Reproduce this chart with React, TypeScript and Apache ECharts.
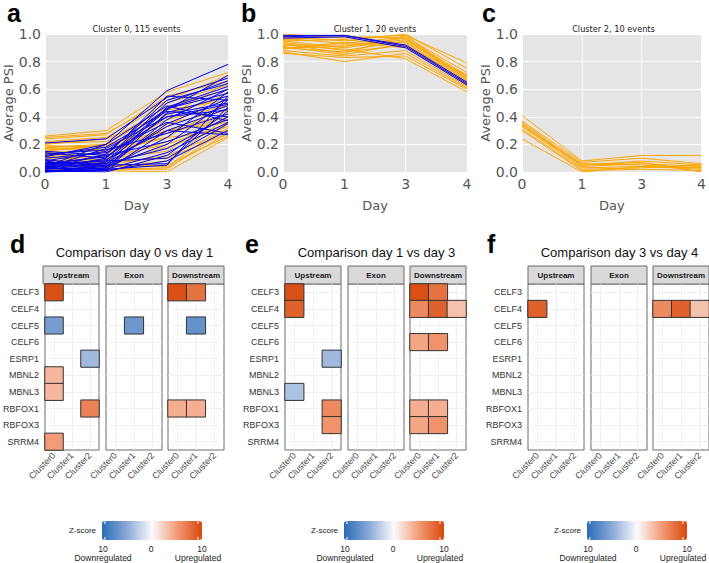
import React, { useEffect, useRef } from 'react';
import * as echarts from 'echarts';

// ---------- top row: average PSI trajectories ----------
const days = ['0', '1', '3', '4'];
const clusterTitles = ['Cluster 0, 115 events', 'Cluster 1, 20 events', 'Cluster 2, 10 events'];

const c0Orange: number[][] = [
  [0.26, 0.30, 0.58, 0.72], [0.25, 0.28, 0.52, 0.70], [0.24, 0.27, 0.55, 0.66], [0.22, 0.25, 0.50, 0.63],
  [0.21, 0.22, 0.47, 0.60], [0.20, 0.24, 0.42, 0.55], [0.19, 0.18, 0.40, 0.65], [0.18, 0.20, 0.45, 0.52],
  [0.17, 0.15, 0.38, 0.48], [0.16, 0.19, 0.35, 0.45], [0.15, 0.12, 0.33, 0.58], [0.14, 0.16, 0.30, 0.42],
  [0.13, 0.10, 0.28, 0.40], [0.12, 0.14, 0.25, 0.50], [0.11, 0.08, 0.22, 0.38], [0.10, 0.11, 0.20, 0.35],
  [0.09, 0.06, 0.18, 0.33], [0.08, 0.09, 0.15, 0.45], [0.07, 0.05, 0.12, 0.30], [0.06, 0.07, 0.10, 0.28],
  [0.05, 0.03, 0.08, 0.40], [0.04, 0.04, 0.05, 0.26], [0.03, 0.02, 0.02, 0.32], [0.02, 0.01, 0.00, 0.25],
  [0.15, 0.20, 0.30, 0.36], [0.18, 0.16, 0.25, 0.30], [0.12, 0.05, 0.04, 0.35], [0.08, 0.02, 0.03, 0.28],
];
const c0Blue: number[][] = [
  [0.04, 0.20, 0.59, 0.78], [0.21, 0.24, 0.54, 0.68], [0.15, 0.12, 0.55, 0.52], [0.02, 0.10, 0.50, 0.66],
  [0.00, 0.05, 0.47, 0.62], [0.08, 0.15, 0.46, 0.57], [0.05, 0.08, 0.45, 0.70], [0.12, 0.18, 0.44, 0.40],
  [0.01, 0.03, 0.43, 0.55], [0.03, 0.07, 0.42, 0.50], [0.06, 0.11, 0.40, 0.45], [0.00, 0.02, 0.38, 0.60],
  [0.10, 0.14, 0.36, 0.28], [0.02, 0.04, 0.35, 0.53], [0.07, 0.06, 0.33, 0.48], [0.01, 0.01, 0.30, 0.46],
  [0.04, 0.09, 0.30, 0.27], [0.13, 0.16, 0.28, 0.42], [0.00, 0.03, 0.25, 0.58], [0.05, 0.12, 0.22, 0.38],
  [0.09, 0.04, 0.20, 0.52], [0.02, 0.06, 0.17, 0.40], [0.03, 0.02, 0.14, 0.36], [0.01, 0.00, 0.12, 0.44],
  [0.06, 0.08, 0.10, 0.35], [0.00, 0.01, 0.08, 0.30], [0.04, 0.05, 0.06, 0.47], [0.11, 0.20, 0.48, 0.37],
  [0.02, 0.13, 0.52, 0.64], [0.08, 0.02, 0.05, 0.55], [0.14, 0.10, 0.46, 0.60], [0.03, 0.17, 0.40, 0.49],
];
const c1Orange: number[][] = [
  [1.00, 0.97, 0.99, 0.79], [0.98, 0.95, 1.00, 0.75], [0.97, 0.93, 0.98, 0.72], [0.96, 0.98, 0.97, 0.70],
  [0.95, 0.90, 0.96, 0.69], [0.94, 0.88, 0.95, 0.68], [0.93, 0.86, 0.99, 0.67], [0.92, 0.92, 0.94, 0.66],
  [0.91, 0.85, 0.93, 0.65], [0.90, 0.87, 0.92, 0.64], [0.89, 0.94, 0.90, 0.63], [0.88, 0.84, 0.88, 0.62],
  [0.87, 0.80, 0.86, 0.61], [0.86, 0.83, 0.84, 0.60], [0.92, 0.89, 0.82, 0.58], [0.95, 0.96, 0.91, 0.70],
  [0.90, 0.91, 0.97, 0.66],
];
const c1Blue: number[][] = [
  [0.98, 0.99, 0.92, 0.65], [0.97, 0.98, 0.90, 0.63], [0.99, 0.99, 0.91, 0.64],
];
const c2Orange: number[][] = [
  [0.41, 0.08, 0.12, 0.12], [0.37, 0.07, 0.10, 0.06], [0.36, 0.05, 0.08, 0.05], [0.35, 0.04, 0.06, 0.04],
  [0.34, 0.06, 0.05, 0.03], [0.33, 0.03, 0.04, 0.02], [0.31, 0.02, 0.03, 0.05], [0.30, 0.01, 0.02, 0.01],
  [0.24, 0.00, 0.04, 0.03], [0.33, 0.05, 0.07, 0.00],
];
const c2Blue: number[][] = [];

// ---------- bottom row: RBP motif z-score heatmaps ----------
const genes = ['CELF3', 'CELF4', 'CELF5', 'CELF6', 'ESRP1', 'MBNL2', 'MBNL3', 'RBFOX1', 'RBFOX3', 'SRRM4'];
const clusters = ['Cluster0', 'Cluster1', 'Cluster2'];
const regions = ['Upstream', 'Exon', 'Downstream'];
const comparisons = ['Comparison day 0 vs day 1', 'Comparison day 1 vs day 3', 'Comparison day 3 vs day 4'];
const zTickLabels = ['10', '0', '10'];
const zEndLabels = ['Downregulated', 'Upregulated'];

type Cell = [string, string, number];
const d01Upstream: Cell[] = [
  ['Cluster0', 'CELF3', 9.5], ['Cluster0', 'CELF5', -6], ['Cluster2', 'ESRP1', -4],
  ['Cluster0', 'MBNL2', 3.5], ['Cluster0', 'MBNL3', 3.5], ['Cluster2', 'RBFOX1', 6.5], ['Cluster0', 'SRRM4', 5],
];
const d01Exon: Cell[] = [['Cluster1', 'CELF5', -6.5]];
const d01Downstream: Cell[] = [
  ['Cluster0', 'CELF3', 9.5], ['Cluster1', 'CELF3', 7.5], ['Cluster1', 'CELF5', -7],
  ['Cluster0', 'RBFOX1', 4], ['Cluster1', 'RBFOX1', 4],
];
const d13Upstream: Cell[] = [
  ['Cluster0', 'CELF3', 9.5], ['Cluster0', 'CELF4', 8.5], ['Cluster2', 'ESRP1', -4],
  ['Cluster0', 'MBNL3', -3.5], ['Cluster2', 'RBFOX1', 6], ['Cluster2', 'RBFOX3', 5.5],
];
const d13Exon: Cell[] = [];
const d13Downstream: Cell[] = [
  ['Cluster0', 'CELF3', 9.5], ['Cluster1', 'CELF3', 7.5],
  ['Cluster0', 'CELF4', 6], ['Cluster1', 'CELF4', 8.5], ['Cluster2', 'CELF4', 3],
  ['Cluster0', 'CELF6', 4.5], ['Cluster1', 'CELF6', 5.5],
  ['Cluster0', 'RBFOX1', 4], ['Cluster1', 'RBFOX1', 4],
  ['Cluster0', 'RBFOX3', 4.5], ['Cluster1', 'RBFOX3', 5.5],
];
const d34Upstream: Cell[] = [['Cluster0', 'CELF4', 8.5]];
const d34Exon: Cell[] = [];
const d34Downstream: Cell[] = [['Cluster0', 'CELF4', 6], ['Cluster1', 'CELF4', 8.5], ['Cluster2', 'CELF4', 3]];

const heatPanels: Cell[][][] = [
  [d01Upstream, d01Exon, d01Downstream],
  [d13Upstream, d13Exon, d13Downstream],
  [d34Upstream, d34Exon, d34Downstream],
];
const linePanels = [
  { orange: c0Orange, blue: c0Blue },
  { orange: c1Orange, blue: c1Blue },
  { orange: c2Orange, blue: c2Blue },
];

const zColors = ['#2a6cb4', '#8aa9d8', '#fbfbfd', '#f39b76', '#d7480c'];

function buildOption() {
  const DV = 'DejaVu Sans';
  const LS = 'Liberation Sans';
  const grid: any[] = [];
  const xAxis: any[] = [];
  const yAxis: any[] = [];
  const series: any[] = [];
  const visualMap: any[] = [];
  const graphic: any[] = [];

  const lineLefts = [45, 283, 522];
  const lineWidths = [183, 184, 183];
  const lineTop = 34;
  const lineH = 138;
  const letterX = [7, 241, 482];

  linePanels.forEach((p, i) => {
    grid.push({ left: lineLefts[i], top: lineTop, width: lineWidths[i], height: lineH, show: true, backgroundColor: '#e5e5e5', borderWidth: 0 });
    xAxis.push({
      gridIndex: i, type: 'category', data: days, boundaryGap: false,
      name: 'Day', nameLocation: 'middle', nameGap: 27,
      nameTextStyle: { fontFamily: DV, fontSize: 13, color: '#555' },
      axisLabel: { interval: 0, fontFamily: DV, fontSize: 14, color: '#555', margin: 5 },
      axisLine: { show: false }, axisTick: { show: false },
      splitLine: { show: true, interval: 0, lineStyle: { color: '#ffffff', width: 1 } },
    });
    yAxis.push({
      gridIndex: i, type: 'value', min: 0, max: 1, interval: 0.2,
      name: 'Average PSI', nameLocation: 'middle', nameGap: 27,
      nameTextStyle: { fontFamily: DV, fontSize: 13, color: '#555' },
      axisLabel: { fontFamily: DV, fontSize: 14, color: '#555', margin: 4, formatter: (v: number) => v.toFixed(1) },
      axisLine: { show: false }, axisTick: { show: false },
      splitLine: { show: true, lineStyle: { color: '#ffffff', width: 1 } },
    });
    p.orange.forEach((d) => series.push({
      type: 'line', xAxisIndex: i, yAxisIndex: i, data: d, symbol: 'none', silent: true,
      lineStyle: { color: '#ffa500', width: 1 }, z: 2,
    }));
    p.blue.forEach((d) => series.push({
      type: 'line', xAxisIndex: i, yAxisIndex: i, data: d, symbol: 'none', silent: true,
      lineStyle: { color: '#0000f0', width: 1 }, z: 3,
    }));
    graphic.push({
      type: 'text', x: lineLefts[i] + lineWidths[i] / 2, y: 29,
      style: { text: clusterTitles[i], fontFamily: DV, fontSize: 8.2, fill: '#222', align: 'center', verticalAlign: 'middle' },
    });
    graphic.push({
      type: 'text', x: letterX[i], y: 13,
      style: { text: ['a', 'b', 'c'][i], fontFamily: LS, fontSize: 25, fontWeight: 'bold', fill: '#000', align: 'left', verticalAlign: 'middle' },
    });
  });

  const panelLefts = [43, 285, 528];
  const facetOffsets = [0, 63, 125];
  const facetW = 56;
  const heatTop = 284;
  const heatH = 166;
  const stripH = 18;

  heatPanels.forEach((panel, pi) => {
    const idxs: number[] = [];
    panel.forEach((cells, fi) => {
      const gi = grid.length;
      const left = panelLefts[pi] + facetOffsets[fi];
      grid.push({ left, top: heatTop, width: facetW, height: heatH, show: true, backgroundColor: '#ffffff', borderColor: '#6b6b6b', borderWidth: 1 });
      xAxis.push({
        gridIndex: gi, type: 'category', data: clusters,
        axisLabel: { interval: 0, rotate: 45, fontFamily: LS, fontSize: 9, color: '#4d4d4d', margin: 4 },
        axisLine: { show: false }, axisTick: { show: false },
        splitLine: { show: true, interval: 0, alignWithLabel: true, lineStyle: { color: '#ebebeb', width: 0.8 } },
      });
      yAxis.push({
        gridIndex: gi, type: 'category', data: genes, inverse: true,
        axisLabel: { show: fi === 0, interval: 0, fontFamily: LS, fontSize: 9, color: '#333', margin: 6 },
        axisLine: { show: false }, axisTick: { show: false },
        splitLine: { show: true, interval: 0, alignWithLabel: true, lineStyle: { color: '#ebebeb', width: 0.8 } },
      });
      idxs.push(series.length);
      series.push({
        type: 'heatmap', xAxisIndex: gi, yAxisIndex: gi, silent: true,
        data: cells.map((c) => [clusters.indexOf(c[0]), genes.indexOf(c[1]), c[2]]),
        itemStyle: { borderColor: '#333', borderWidth: 1 },
        emphasis: { disabled: true }, z: 3,
      });
      graphic.push({
        type: 'rect', shape: { x: left, y: heatTop - stripH, width: facetW, height: stripH },
        style: { fill: '#d9d9d9', stroke: '#6b6b6b', lineWidth: 1 },
      });
      graphic.push({
        type: 'text', x: left + facetW / 2, y: heatTop - stripH / 2,
        style: { text: regions[fi], fontFamily: LS, fontSize: 8, fontWeight: 'bold', fill: '#1a1a1a', align: 'center', verticalAlign: 'middle' },
      });
    });
    const barLeft = panelLefts[pi] + 59;
    visualMap.push({
      type: 'continuous', min: -10, max: 10, seriesIndex: idxs, orient: 'horizontal',
      left: barLeft, top: 521, itemWidth: 19, itemHeight: 100, calculable: false,
      hoverLink: false, padding: 0, inRange: { color: zColors },
    });
    [3, 96].forEach((dx) => {
      graphic.push({ type: 'line', shape: { x1: barLeft + dx, y1: 521, x2: barLeft + dx, y2: 524 }, style: { stroke: '#ffffff', lineWidth: 1 }, z: 100 });
      graphic.push({ type: 'line', shape: { x1: barLeft + dx, y1: 537, x2: barLeft + dx, y2: 540 }, style: { stroke: '#ffffff', lineWidth: 1 }, z: 100 });
    });
    graphic.push({
      type: 'text', x: barLeft - 6, y: 530,
      style: { text: 'Z-score', fontFamily: LS, fontSize: 8, fill: '#222', align: 'right', verticalAlign: 'middle' },
    });
    [1, 49, 100].forEach((dx, k) => graphic.push({
      type: 'text', x: barLeft + dx, y: 549,
      style: { text: zTickLabels[k], fontFamily: LS, fontSize: 8.5, fill: '#222', align: 'center', verticalAlign: 'middle' },
    }));
    [1, 96].forEach((dx, k) => graphic.push({
      type: 'text', x: barLeft + dx, y: 558,
      style: { text: zEndLabels[k], fontFamily: LS, fontSize: 8.5, fill: '#222', align: 'center', verticalAlign: 'middle' },
    }));
    const panelRight = panelLefts[pi] + facetOffsets[2] + facetW;
    graphic.push({
      type: 'text', x: (panelLefts[pi] + panelRight) / 2 + 1, y: 252,
      style: { text: comparisons[pi], fontFamily: LS, fontSize: 13, fill: '#111', align: 'center', verticalAlign: 'middle' },
    });
    graphic.push({
      type: 'text', x: [10, 245, 487][pi], y: 244,
      style: { text: ['d', 'e', 'f'][pi], fontFamily: LS, fontSize: 25, fontWeight: 'bold', fill: '#000', align: 'left', verticalAlign: 'middle' },
    });
  });

  return { animation: false, backgroundColor: '#ffffff', grid, xAxis, yAxis, series, visualMap, graphic };
}

export default function App() {
  const ref = useRef<HTMLDivElement>(null);
  useEffect(() => {
    if (!ref.current) return;
    const chart = echarts.init(ref.current, null, { renderer: 'svg' });
    chart.setOption(buildOption() as any);
    return () => chart.dispose();
  }, []);
  return <div ref={ref} style={{ position: 'fixed', left: 0, top: 0, width: 709, height: 563 }} />;
}
